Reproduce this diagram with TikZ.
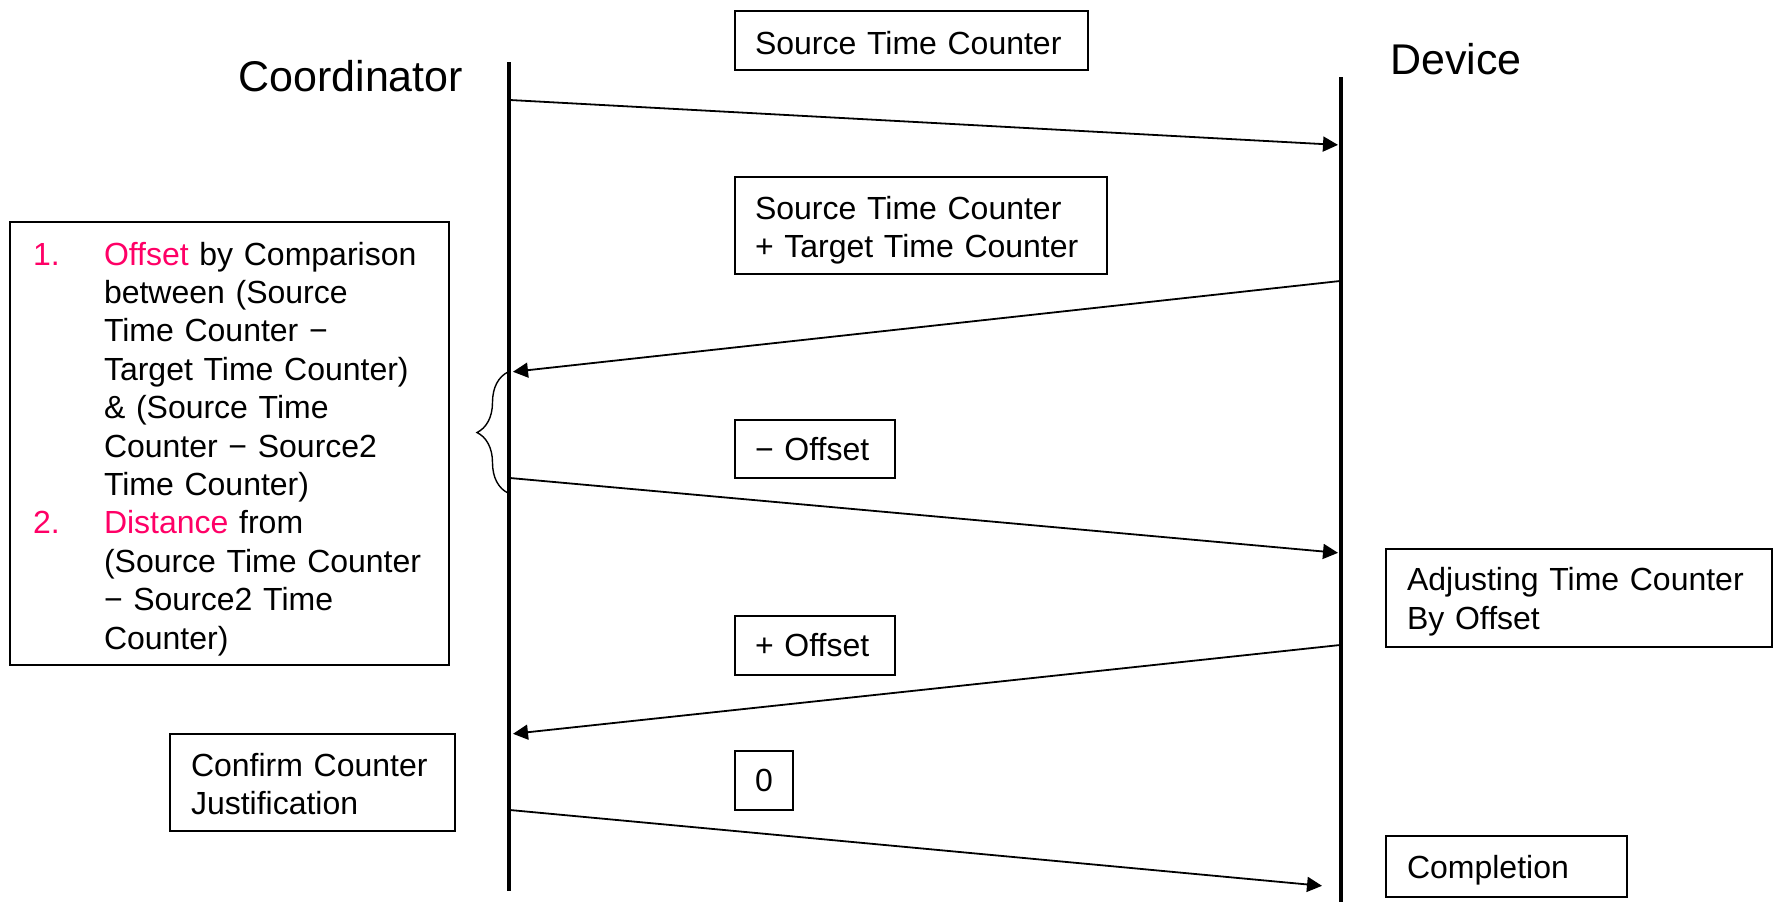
\documentclass[tikz,border=0pt]{standalone}
\usepackage{fontspec}
\setmainfont{Liberation Sans}
\usepackage{xcolor}
\usepackage{tikz}
\usetikzlibrary{arrows.meta,decorations.pathreplacing}
\tikzset{>={Triangle[length=7.5pt,width=7.5pt]}}
\definecolor{hot}{HTML}{FF0066}
\hyphenpenalty=10000
\newcommand{\bodyfont}{\fontsize{16}{19.2}\selectfont}
\newcommand{\numitem}[2]{\makebox[35.5pt][l]{\color{hot}#1}\textcolor{hot}{#2}}
\newcommand{\indt}{\hspace*{35.5pt}}
\newcommand{\lift}[1]{\rule{0pt}{#1}}
\tikzset{
  actor/.style={anchor=base west,inner sep=0pt,font=\fontsize{21.5}{25}\selectfont},
  msgbox/.style={draw,line width=1pt,anchor=north west,align=left,
    inner xsep=10pt,inner ysep=0pt,font=\bodyfont},
  lifeline/.style={line width=2pt},
  msg/.style={->,line width=0.9pt,shorten >=1pt}
}

\begin{document}
\begin{tikzpicture}[x=0.5pt,y=-0.5pt]
\useasboundingbox (0,0) rectangle (1776,902);
\node[actor] (coord) at (238,91) {Coordinator};
\node[actor] (dev) at (1390,74) {Device};
\coordinate (ctop) at (509,62);  \coordinate (cbot) at (509,891);
\coordinate (dtop) at (1341,77); \coordinate (dbot) at (1341,902);
\draw[lifeline] (ctop) -- (cbot);
\draw[lifeline] (dtop) -- (dbot);
\coordinate (c1) at (510,100);  \coordinate (d1) at (1340,145);
\coordinate (d2) at (1340,281); \coordinate (c2) at (511,372);
\coordinate (c3) at (510,478);  \coordinate (d3) at (1340,553);
\coordinate (d4) at (1340,645); \coordinate (c4) at (511,734);
\coordinate (c5) at (510,810);  \coordinate (e5) at (1324,886);
\draw[msg] (c1) -- (d1);
\draw[msg] (d2) -- (c2);
\draw[msg] (c3) -- (d3);
\draw[msg] (d4) -- (c4);
\draw[msg] (c5) -- (e5);
\coordinate (blo) at (508,493); \coordinate (bhi) at (508,372);
\draw[line width=0.7pt,decorate,decoration={brace,amplitude=15.5pt}] (blo) -- (bhi);
\node[msgbox,text width=156.5pt,minimum height=29.5pt] (src) at (734,10) {\lift{14.4pt}Source Time Counter};
\node[msgbox,text width=166pt,minimum height=48.5pt] (srctgt) at (734,176)
  {\lift{16.4pt}Source Time Counter\\+ Target Time Counter};
\node[msgbox,text width=60pt,minimum height=29pt] (minus) at (734,419) {− Offset};
\node[msgbox,text width=60pt,minimum height=29.5pt] (plus) at (734,615) {+ Offset};
\node[msgbox,text width=9pt,minimum height=29.5pt] (zero) at (734,750) {0};
\node[msgbox,text width=121.5pt,minimum height=48.5pt,inner xsep=10.5pt] (confirm) at (169,733)
  {\lift{13.4pt}Confirm Counter\\Justification};
\node[msgbox,text width=172pt,minimum height=49pt,inner xsep=10.5pt] (adjust) at (1385,548)
  {\lift{15.2pt}Adjusting Time Counter\\By Offset};
\node[msgbox,text width=99.5pt,minimum height=30.5pt,inner xsep=10.5pt] (done) at (1385,835)
  {\lift{14.8pt}Completion};
\node[msgbox,text width=196.5pt,minimum height=221.5pt,inner xsep=11.5pt] (calc) at (9,221)
  {\lift{16.8pt}\numitem{1.}{Offset} by Comparison\\
   \indt between (Source\\
   \indt Time Counter −\\
   \indt Target Time Counter)\\
   \indt \& (Source Time\\
   \indt Counter − Source2\\
   \indt Time Counter)\\
   \numitem{2.}{Distance} from\\
   \indt (Source Time Counter\\
   \indt − Source2 Time\\
   \indt Counter)};
\end{tikzpicture}
\end{document}
